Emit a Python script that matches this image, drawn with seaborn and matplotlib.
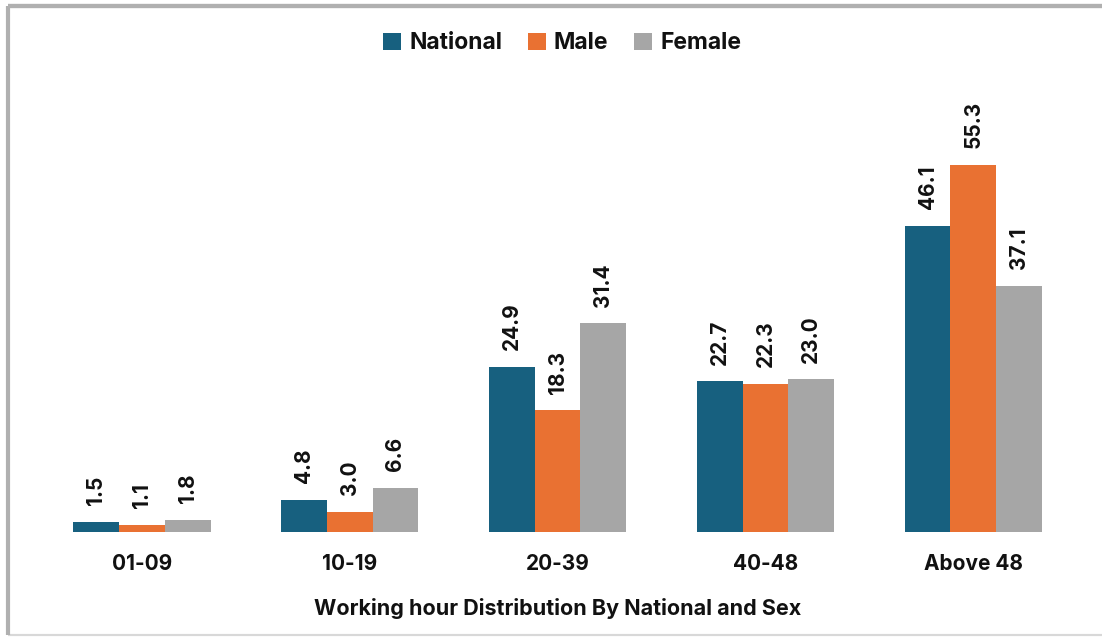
import pandas as pd
import matplotlib.pyplot as plt
import seaborn as sns
from matplotlib.patches import Rectangle

plt.switch_backend('Agg')

# Chart data
hours = ['01-09', '10-19', '20-39', '40-48', 'Above 48']
national = [1.5, 4.8, 24.9, 22.7, 46.1]
male = [1.1, 3.0, 18.3, 22.3, 55.3]
female = [1.8, 6.6, 31.4, 23.0, 37.1]
series_names = ['National', 'Male', 'Female']
colors = ['#17607F', '#E97132', '#A6A6A6']

df = pd.DataFrame({
    'hours': hours * 3,
    'value': national + male + female,
    'series': [s for s in series_names for _ in hours],
})

sns.set_style('white')
plt.rcParams['font.family'] = ['Inter', 'DejaVu Sans']

fig = plt.figure(figsize=(11.02, 6.37), dpi=100)
ax = fig.add_axes([0.0345, 0.165, 0.943, 0.717])

sns.barplot(data=df, x='hours', y='value', hue='series', palette=colors,
            width=0.66, saturation=1, linewidth=0, ax=ax, legend=True)

for container in ax.containers:
    ax.bar_label(container, fmt='%.1f', rotation=90, padding=12,
                 fontsize=15, fontweight='bold', color='#111111')

ax.set_ylim(0, 68.8)
ax.set_yticks([])
ax.set_ylabel('')
ax.set_xlabel('Working hour Distribution By National and Sex',
              fontsize=15.5, fontweight='bold', color='#111111', labelpad=17)
ax.tick_params(axis='x', length=0, pad=16, labelsize=15, labelcolor='#111111')
for lbl in ax.get_xticklabels():
    lbl.set_fontweight('bold')
for side in ['top', 'right', 'left', 'bottom']:
    ax.spines[side].set_visible(False)

leg = ax.legend(loc='center', bbox_to_anchor=(0.51, 0.932), bbox_transform=fig.transFigure,
                ncol=3, frameon=False, handlelength=0.8, handleheight=0.8,
                handletextpad=0.35, columnspacing=1.1,
                prop={'weight': 'bold', 'size': 16.5})
for t in leg.get_texts():
    t.set_color('#111111')

# figure frame (left, top, bottom)
fig.patches.append(Rectangle((0.0075, 0.003), 1.0, 0, transform=fig.transFigure,
                             fill=False, edgecolor='#D8D8D8', linewidth=1.5))
fig.patches.append(Rectangle((0.0075, 0.003), 0, 0.988, transform=fig.transFigure,
                             fill=False, edgecolor='#B0B0B0', linewidth=3))
fig.patches.append(Rectangle((0.0075, 0.991), 1.0, 0, transform=fig.transFigure,
                             fill=False, edgecolor='#B0B0B0', linewidth=3))

fig.savefig('out.png', dpi=100)
plt.close(fig)
